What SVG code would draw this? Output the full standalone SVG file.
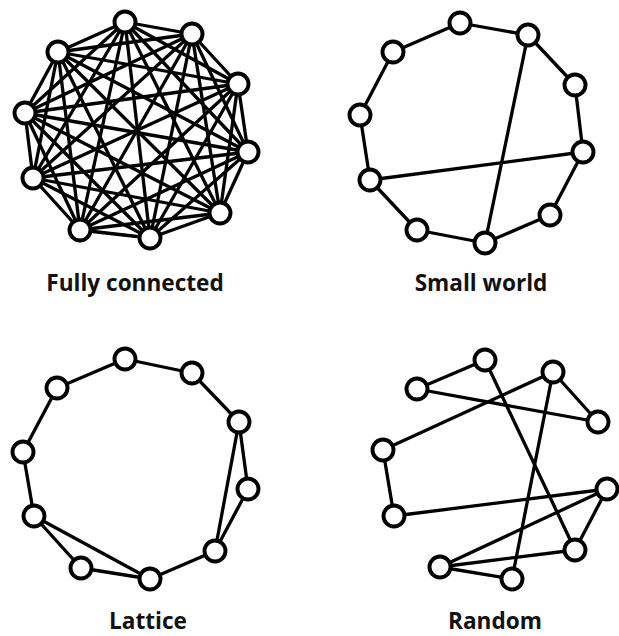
<svg xmlns="http://www.w3.org/2000/svg" width="619" height="636" viewBox="0 0 619 636">
<style>
.e line{stroke:#000;stroke-width:3.3;stroke-linecap:round}
.n circle{fill:#fff;stroke:#000;stroke-width:3.9}
text{font-family:"Open Sans","Liberation Sans",sans-serif;font-weight:bold;font-size:22.6px;fill:#111;text-anchor:middle}
</style>
<rect width="619" height="636" fill="#fff"/>
<g id="connectors">
<g class="e" id="fc-edges">
<line x1="125" y1="22" x2="192" y2="34"/><line x1="125" y1="22" x2="238" y2="84"/><line x1="125" y1="22" x2="248" y2="152"/><line x1="125" y1="22" x2="220" y2="213"/><line x1="125" y1="22" x2="150" y2="238"/><line x1="125" y1="22" x2="80" y2="230"/><line x1="125" y1="22" x2="33" y2="178"/><line x1="125" y1="22" x2="25" y2="113"/><line x1="125" y1="22" x2="58" y2="52"/>
<line x1="192" y1="34" x2="238" y2="84"/><line x1="192" y1="34" x2="248" y2="152"/><line x1="192" y1="34" x2="220" y2="213"/><line x1="192" y1="34" x2="150" y2="238"/><line x1="192" y1="34" x2="80" y2="230"/><line x1="192" y1="34" x2="33" y2="178"/><line x1="192" y1="34" x2="25" y2="113"/><line x1="192" y1="34" x2="58" y2="52"/>
<line x1="238" y1="84" x2="248" y2="152"/><line x1="238" y1="84" x2="220" y2="213"/><line x1="238" y1="84" x2="150" y2="238"/><line x1="238" y1="84" x2="80" y2="230"/><line x1="238" y1="84" x2="33" y2="178"/><line x1="238" y1="84" x2="25" y2="113"/><line x1="238" y1="84" x2="58" y2="52"/>
<line x1="248" y1="152" x2="220" y2="213"/><line x1="248" y1="152" x2="150" y2="238"/><line x1="248" y1="152" x2="80" y2="230"/><line x1="248" y1="152" x2="33" y2="178"/><line x1="248" y1="152" x2="25" y2="113"/><line x1="248" y1="152" x2="58" y2="52"/>
<line x1="220" y1="213" x2="150" y2="238"/><line x1="220" y1="213" x2="80" y2="230"/><line x1="220" y1="213" x2="33" y2="178"/><line x1="220" y1="213" x2="25" y2="113"/><line x1="220" y1="213" x2="58" y2="52"/>
<line x1="150" y1="238" x2="80" y2="230"/><line x1="150" y1="238" x2="33" y2="178"/><line x1="150" y1="238" x2="25" y2="113"/><line x1="150" y1="238" x2="58" y2="52"/>
<line x1="80" y1="230" x2="33" y2="178"/><line x1="80" y1="230" x2="25" y2="113"/><line x1="80" y1="230" x2="58" y2="52"/>
<line x1="33" y1="178" x2="25" y2="113"/><line x1="33" y1="178" x2="58" y2="52"/>
<line x1="25" y1="113" x2="58" y2="52"/>
</g>
<g class="e" id="sw-edges">
<line x1="460" y1="23" x2="528" y2="35"/><line x1="528" y1="35" x2="575" y2="85"/><line x1="575" y1="85" x2="583" y2="152"/><line x1="583" y1="152" x2="550" y2="215"/><line x1="550" y1="215" x2="485" y2="243"/><line x1="485" y1="243" x2="417" y2="230"/><line x1="417" y1="230" x2="370" y2="180"/><line x1="370" y1="180" x2="360" y2="115"/><line x1="360" y1="115" x2="393" y2="52"/><line x1="393" y1="52" x2="460" y2="23"/>
<line x1="528" y1="35" x2="485" y2="243"/><line x1="370" y1="180" x2="583" y2="152"/>
</g>
<g class="e" id="lat-edges">
<line x1="125" y1="359" x2="192" y2="373"/><line x1="192" y1="373" x2="239" y2="422"/><line x1="239" y1="422" x2="248" y2="489"/><line x1="248" y1="489" x2="215" y2="551"/><line x1="239" y1="422" x2="215" y2="551"/><line x1="215" y1="551" x2="150" y2="579"/><line x1="150" y1="579" x2="81" y2="568"/><line x1="81" y1="568" x2="34" y2="516"/><line x1="34" y1="516" x2="150" y2="579"/><line x1="34" y1="516" x2="23" y2="452"/><line x1="23" y1="452" x2="57" y2="388"/><line x1="57" y1="388" x2="125" y2="359"/>
</g>
<g class="e" id="rnd-edges">
<line x1="417" y1="389" x2="485" y2="360"/><line x1="417" y1="389" x2="598" y2="422"/><line x1="485" y1="360" x2="575" y2="550"/><line x1="553" y1="372" x2="598" y2="422"/><line x1="553" y1="372" x2="383" y2="450"/><line x1="553" y1="372" x2="512" y2="579"/><line x1="383" y1="450" x2="394" y2="516"/><line x1="394" y1="516" x2="607" y2="489"/><line x1="607" y1="489" x2="440" y2="567"/><line x1="607" y1="489" x2="575" y2="550"/><line x1="440" y1="567" x2="575" y2="550"/><line x1="440" y1="567" x2="512" y2="579"/>
</g>
</g>
<g id="fully-connected">
<g class="n"><circle cx="125" cy="22" r="10.5"/><circle cx="192" cy="34" r="10.5"/><circle cx="238" cy="84" r="10.5"/><circle cx="248" cy="152" r="10.5"/><circle cx="220" cy="213" r="10.5"/><circle cx="150" cy="238" r="10.5"/><circle cx="80" cy="230" r="10.5"/><circle cx="33" cy="178" r="10.5"/><circle cx="25" cy="113" r="10.5"/><circle cx="58" cy="52" r="10.5"/></g>
<text x="135" y="291">Fully connected</text>
</g>
<g id="small-world">
<g class="n"><circle cx="460" cy="23" r="10.5"/><circle cx="528" cy="35" r="10.5"/><circle cx="575" cy="85" r="10.5"/><circle cx="583" cy="152" r="10.5"/><circle cx="550" cy="215" r="10.5"/><circle cx="485" cy="243" r="10.5"/><circle cx="417" cy="230" r="10.5"/><circle cx="370" cy="180" r="10.5"/><circle cx="360" cy="115" r="10.5"/><circle cx="393" cy="52" r="10.5"/></g>
<text x="481" y="291">Small world</text>
</g>
<g id="lattice">
<g class="n"><circle cx="125" cy="359" r="10.5"/><circle cx="192" cy="373" r="10.5"/><circle cx="239" cy="422" r="10.5"/><circle cx="248" cy="489" r="10.5"/><circle cx="215" cy="551" r="10.5"/><circle cx="150" cy="579" r="10.5"/><circle cx="81" cy="568" r="10.5"/><circle cx="34" cy="516" r="10.5"/><circle cx="23" cy="452" r="10.5"/><circle cx="57" cy="388" r="10.5"/></g>
<text x="148" y="629">Lattice</text>
</g>
<g id="random">
<g class="n"><circle cx="485" cy="360" r="10.5"/><circle cx="553" cy="372" r="10.5"/><circle cx="598" cy="422" r="10.5"/><circle cx="607" cy="489" r="10.5"/><circle cx="575" cy="550" r="10.5"/><circle cx="512" cy="579" r="10.5"/><circle cx="440" cy="567" r="10.5"/><circle cx="394" cy="516" r="10.5"/><circle cx="383" cy="450" r="10.5"/><circle cx="417" cy="389" r="10.5"/></g>
<text x="495" y="629">Random</text>
</g>
</svg>
